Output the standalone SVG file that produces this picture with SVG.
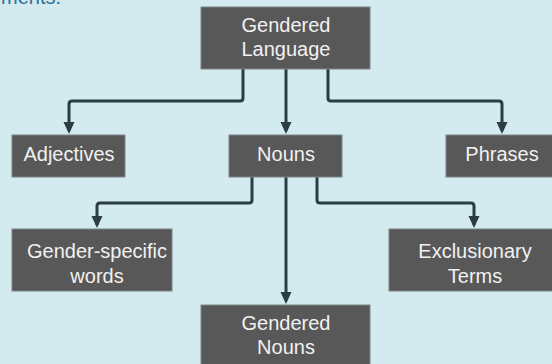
<svg xmlns="http://www.w3.org/2000/svg" width="552" height="364" viewBox="0 0 552 364">
  <defs>
    <style>
      .box { fill: #595858; stroke: #7d8486; stroke-width: 1; }
      .lbl { font-family: "Liberation Sans", Arial, sans-serif; font-size: 20px; fill: #f1f1f1; text-anchor: middle; }
      .conn { fill: none; stroke: #2c3c46; stroke-width: 3; }
      .cap { font-family: "Liberation Sans", Arial, sans-serif; font-size: 20px; fill: #2f6f96; }
    </style>
    <marker id="arr" markerUnits="userSpaceOnUse" markerWidth="13" markerHeight="12" refX="9" refY="5.5" orient="auto">
      <path d="M0,0 L12,5.5 L0,11 Z" fill="#2c3c46"/>
    </marker>
  </defs>
  <rect x="0" y="0" width="552" height="364" fill="#d3ebee"/>
  <text class="cap" x="1" y="4">ments.</text>

  <g id="connectors">
    <path class="conn" marker-end="url(#arr)" d="M243,69 V98 Q243,101 240,101 H72 Q69,101 69,104 V131"/>
    <path class="conn" marker-end="url(#arr)" d="M286,69 V131"/>
    <path class="conn" marker-end="url(#arr)" d="M328,69 V98 Q328,101 331,101 H499 Q502,101 502,104 V131"/>
    <path class="conn" marker-end="url(#arr)" d="M252,177 V200 Q252,203 249,203 H100 Q97,203 97,206 V225"/>
    <path class="conn" marker-end="url(#arr)" d="M286,177 V301"/>
    <path class="conn" marker-end="url(#arr)" d="M317,177 V200 Q317,203 320,203 H471 Q474,203 474,206 V225"/>
  </g>

  <g id="gendered-language">
    <rect class="box" x="201" y="7" width="169" height="62"/>
    <text class="lbl" x="286" y="32">Gendered</text>
    <text class="lbl" x="286" y="56">Language</text>
  </g>
  <g id="adjectives">
    <rect class="box" x="12" y="135" width="113" height="42"/>
    <text class="lbl" x="69" y="161">Adjectives</text>
  </g>
  <g id="nouns">
    <rect class="box" x="229" y="135" width="113" height="42"/>
    <text class="lbl" x="286" y="161">Nouns</text>
  </g>
  <g id="phrases">
    <rect class="box" x="446" y="135" width="113" height="42"/>
    <text class="lbl" x="502" y="161">Phrases</text>
  </g>
  <g id="gender-specific-words">
    <rect class="box" x="12" y="229" width="160" height="62"/>
    <text class="lbl" x="97" y="258">Gender-specific</text>
    <text class="lbl" x="97" y="283">words</text>
  </g>
  <g id="exclusionary-terms">
    <rect class="box" x="389" y="229" width="172" height="62"/>
    <text class="lbl" x="475" y="258">Exclusionary</text>
    <text class="lbl" x="475" y="283">Terms</text>
  </g>
  <g id="gendered-nouns">
    <rect class="box" x="201" y="305" width="169" height="62"/>
    <text class="lbl" x="286" y="330">Gendered</text>
    <text class="lbl" x="286" y="354">Nouns</text>
  </g>
</svg>
